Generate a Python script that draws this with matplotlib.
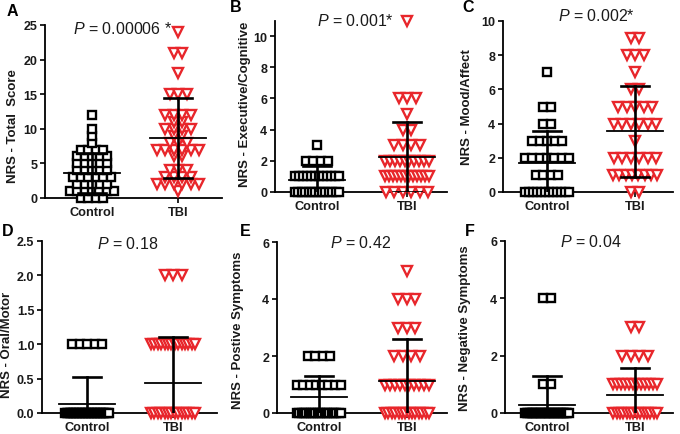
import matplotlib
matplotlib.use('Agg')
import matplotlib.pyplot as plt
import numpy as np

plt.rcParams['font.family'] = ['Liberation Sans', 'DejaVu Sans']
plt.rcParams['mathtext.fontset'] = 'custom'
plt.rcParams['mathtext.it'] = 'Liberation Sans:italic'
plt.rcParams['mathtext.rm'] = 'Liberation Sans'

# ---------------- data ----------------
groups = ['Control', 'TBI']
panel_letters = ['A', 'B', 'C', 'D', 'E', 'F']
y_labels = ['NRS - Total  Score', 'NRS - Executive/Cognitive', 'NRS - Mood/Affect',
            'NRS - Oral/Motor', 'NRS - Postive Symptoms', 'NRS - Negative Symptoms']
p_values = ['0.00006 *', '0.001*', '0.002*', '0.18', '0.42', '0.04']

# scores and number of subjects at each score
ctrl_scores = [
    [0, 1, 2, 3, 4, 5, 6, 7, 8, 9, 10, 12],
    [0, 1, 2, 3],
    [0, 1, 2, 3, 4, 5, 7],
    [0, 1],
    [0, 1, 2],
    [0, 1, 4],
]
ctrl_counts = [
    [4, 7, 5, 6, 5, 5, 5, 4, 1, 1, 1, 1],
    [14, 12, 4, 1],
    [12, 4, 7, 5, 2, 2, 1],
    [30, 5],
    [20, 8, 4],
    [28, 2, 2],
]
tbi_scores = [
    [1, 2, 3, 4, 6, 7, 8, 9, 10, 11, 12, 15, 18, 21, 24],
    [0, 1, 2, 3, 4, 5, 6, 11],
    [0, 1, 2, 3, 4, 5, 6, 7, 8, 9],
    [0, 1, 2],
    [0, 1, 2, 3, 4, 5],
    [0, 1, 2, 3],
]
tbi_counts = [
    [1, 6, 4, 3, 2, 6, 3, 2, 4, 2, 4, 3, 1, 2, 1],
    [6, 12, 10, 4, 2, 1, 3, 1],
    [2, 8, 6, 1, 6, 5, 2, 1, 3, 2],
    [14, 14, 3],
    [14, 10, 4, 3, 3, 1],
    [14, 12, 4, 2],
]
# mean and SD
ctrl_mean = [3.6, 0.8, 1.7, 0.13, 0.55, 0.27]
ctrl_sd = [2.9, 0.85, 1.85, 0.39, 0.74, 1.02]
tbi_mean = [8.7, 2.25, 3.55, 0.43, 1.13, 0.62]
tbi_sd = [5.8, 2.25, 2.65, 0.67, 1.45, 0.94]

y_max = [25, 11, 10, 2.5, 6, 6]
y_ticks = [
    [0, 5, 10, 15, 20, 25],
    [0, 2, 4, 6, 8, 10],
    [0, 2, 4, 6, 8, 10],
    [0, 0.5, 1.0, 1.5, 2.0, 2.5],
    [0, 2, 4, 6],
    [0, 2, 4, 6],
]

# ---------------- layout ----------------
W, H = 680, 435
boxes = [  # left, top, right, bottom in pixels
    (45, 26, 222, 199),
    (275, 21.5, 447, 193),
    (503, 22, 673, 193),
    (42, 242, 217, 414),
    (277, 243, 447, 414),
    (505, 242, 673, 414),
]
xlims = [(0.453, 2.51), (0.533, 2.444), (0.5, 2.43), (0.477, 2.51), (0.523, 2.455), (0.523, 2.43)]
p_pos = [(0.44, 0.98), (0.465, 1.0), (0.55, 1.035), (0.49, 0.99), (0.49, 1.0), (0.51, 1.0)]
ylab_pos = [(-0.18, 0.42), (-0.174, 0.52), (-0.21, 0.50), (-0.20, 0.40), (-0.23, 0.49), (-0.24, 0.50)]
letter_pos = [(12, 12), (236, 8), (468, 8), (8, 232), (245, 232), (470, 232)]

RED = '#e8262b'
TXT = '#1a1a1a'

fig = plt.figure(figsize=(W / 100, H / 100), dpi=100)


def swarm_x(values, center, step, maxspan):
    xs = np.empty(len(values), dtype=float)
    vals = np.asarray(values, dtype=float)
    for v in np.unique(vals):
        idx = np.where(vals == v)[0]
        n = len(idx)
        st = step if n <= 1 else min(step, maxspan / (n - 1))
        xs[idx] = center + (np.arange(n) - (n - 1) / 2) * st
    return xs


for i in range(6):
    l, t, r, b = boxes[i]
    ax = fig.add_axes([l / W, 1 - b / H, (r - l) / W, (b - t) / H])
    x0, x1 = xlims[i]
    ax.set_xlim(x0, x1)
    ax.set_ylim(0, y_max[i])
    d_per_px = (x1 - x0) / (r - l)

    cvals = np.repeat(ctrl_scores[i], ctrl_counts[i])
    tvals = np.repeat(tbi_scores[i], tbi_counts[i])
    cx = swarm_x(cvals, 1, 7.5 * d_per_px, 44 * d_per_px)
    tx = swarm_x(tvals, 2, 8.5 * d_per_px, 44 * d_per_px)

    ax.plot(cx, cvals, linestyle='none', marker='s', markersize=6.0,
            markerfacecolor='white', markeredgecolor='black', markeredgewidth=1.7,
            clip_on=False, zorder=2)
    ax.plot(tx, tvals, linestyle='none', marker='v', markersize=7.3,
            markerfacecolor='white', markeredgecolor=RED, markeredgewidth=1.7,
            clip_on=False, zorder=2)

    for xc, m, s in [(1, ctrl_mean[i], ctrl_sd[i]), (2, tbi_mean[i], tbi_sd[i])]:
        mw = 28 * d_per_px
        cw = 14 * d_per_px
        ax.plot([xc - mw, xc + mw], [m, m], color='black', lw=1.3, zorder=3)
        ax.plot([xc, xc], [m - s, m + s], color='black', lw=1.9, zorder=3)
        ax.plot([xc - cw, xc + cw], [m + s, m + s], color='black', lw=1.9, zorder=3)
        ax.plot([xc - cw, xc + cw], [m - s, m - s], color='black', lw=1.9, zorder=3)

    for sp in ['top', 'right']:
        ax.spines[sp].set_visible(False)
    for sp in ['left', 'bottom']:
        ax.spines[sp].set_linewidth(1.3)
        ax.spines[sp].set_zorder(1)

    ax.set_yticks(y_ticks[i])
    if i == 3:
        ax.set_yticklabels(['%.1f' % v for v in y_ticks[i]])
    else:
        ax.set_yticklabels(['%d' % v for v in y_ticks[i]])
    ax.set_xticks([1, 2])
    ax.set_xticklabels(groups)
    ax.tick_params(axis='both', length=3.5, width=1.2, colors='black')
    ax.tick_params(axis='y', labelsize=9, labelcolor=TXT, pad=2)
    ax.tick_params(axis='x', labelsize=9.2, labelcolor=TXT, pad=2)
    for lab in ax.get_xticklabels() + ax.get_yticklabels():
        lab.set_fontweight('bold')

    ax.text(ylab_pos[i][0], ylab_pos[i][1], y_labels[i], transform=ax.transAxes,
            rotation=90, ha='center', va='center', fontsize=9.5, fontweight='bold', color=TXT)
    ax.text(p_pos[i][0], p_pos[i][1], r'$\mathit{P}$ = ' + p_values[i], transform=ax.transAxes,
            ha='center', va='center', fontsize=11.5, color=TXT)
    fig.text(letter_pos[i][0] / W, 1 - letter_pos[i][1] / H, panel_letters[i],
             ha='center', va='center', fontsize=11.5, fontweight='bold', color='black')

fig.savefig('out.png', dpi=100)
